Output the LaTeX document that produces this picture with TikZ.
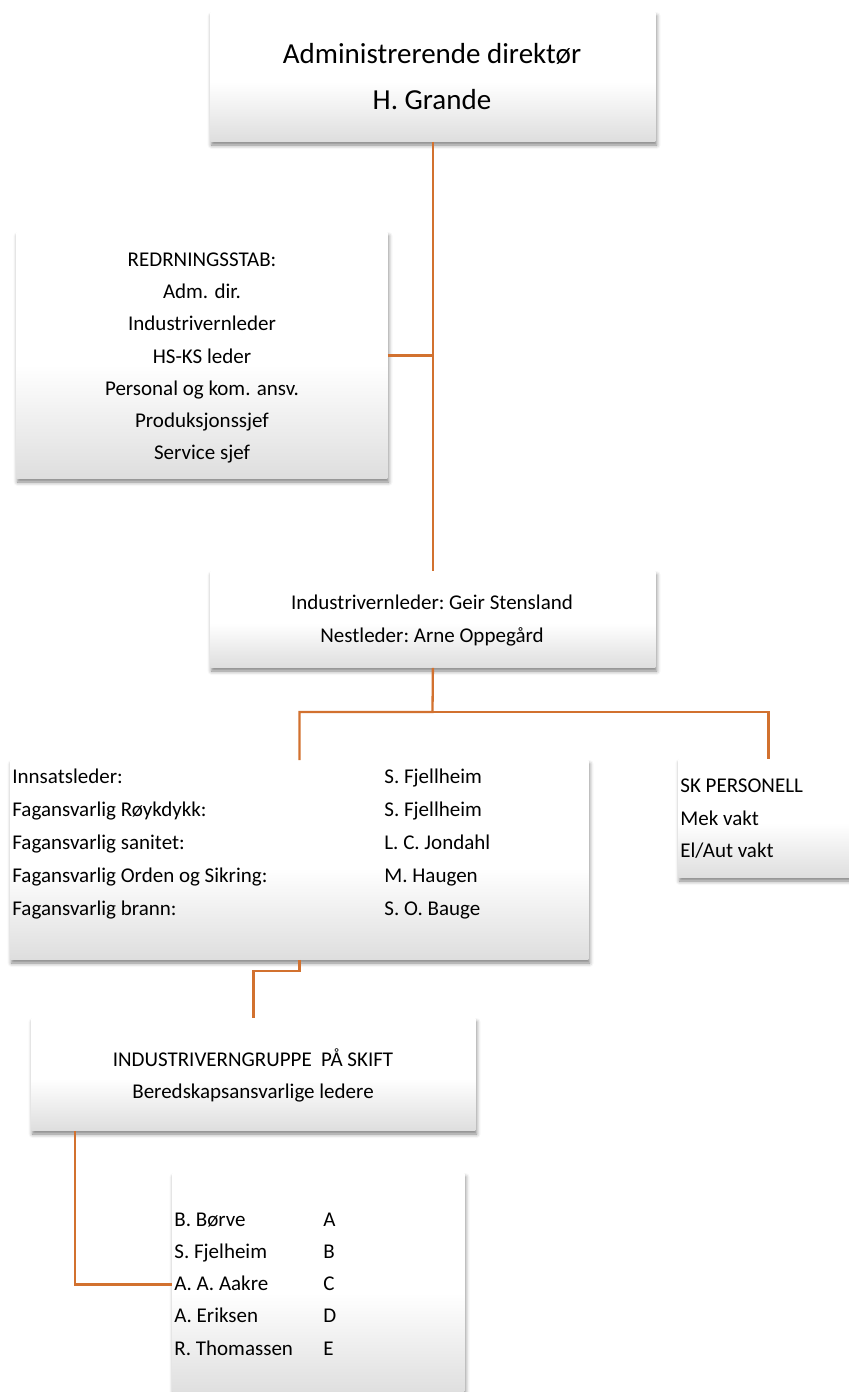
\documentclass[tikz,border=0pt]{standalone}
\usepackage{fontspec}
\setmainfont{Carlito}
\usetikzlibrary{shadows.blur}
\definecolor{conn}{HTML}{D2712F}
\pgfdeclareverticalshading{boxshade}{100bp}{color(0bp)=(black!13); color(25bp)=(black!13); color(48bp)=(white); color(75bp)=(white); color(100bp)=(white)}
\tikzset{
  orgbox/.style={shading=boxshade, draw=none, inner sep=0pt, anchor=north west,
    blur shadow={shadow xshift=0.6pt, shadow yshift=-1.8pt, shadow blur radius=2pt, shadow opacity=50}},
  small/.style={inner sep=0pt, anchor=base, font=\fontsize{10.5pt}{16pt}\selectfont},
  smallw/.style={small, anchor=base west},
  big/.style={inner sep=0pt, anchor=base, font=\fontsize{14.5pt}{23pt}\selectfont},
  link/.style={draw=conn, line width=1.15pt}
}
\begin{document}
\begin{tikzpicture}[x=0.5pt, y=-0.5pt]
\useasboundingbox (0,0) rectangle (848,1392);
% boxes
\node[orgbox, minimum width=222.5pt, minimum height=64.5pt] (adm) at (210,12) {};
\node[orgbox, minimum width=185.5pt, minimum height=123pt] (stab) at (16,232) {};
\node[orgbox, minimum width=222.5pt, minimum height=48pt] (ivl) at (210,571) {};
\node[orgbox, minimum width=289pt, minimum height=99.5pt] (fag) at (10,760) {};
\node[orgbox, minimum width=90pt, minimum height=59pt] (sk) at (678,759) {};
\node[orgbox, minimum width=222pt, minimum height=56pt] (grp) at (31,1018) {};
\node[orgbox, minimum width=146pt, minimum height=111pt] (skift) at (172,1173) {};
% connectors
\coordinate (bus) at (432.5,712);
\coordinate (step2) at (0,971);
\coordinate (gx) at (75,0);
\draw[link] (adm.south) -- (ivl.north);
\draw[link] (stab.east) -- (stab.east -| adm.south);
\draw[link] (ivl.south) -- (bus) -| (fag.north);
\draw[link] (bus) -| (sk.north);
\draw[link] (fag.south) -- (fag.south |- step2) -| (grp.north);
\draw[link] (gx |- grp.south) |- (skift.west);
% texts
\node[big] (adm-1) at (432,63) {Administrerende direktør};
\node[big] (adm-2) at (432,109) {H. Grande};
\node[small] (stab-1) at (202,266) {REDRNINGSSTAB:};
\node[small] (stab-2) at (202,298) {Adm. dir.};
\node[small] (stab-3) at (202,330) {Industrivernleder};
\node[small] (stab-4) at (202,363) {HS-KS leder};
\node[small] (stab-5) at (202,395) {Personal og kom. ansv.};
\node[small] (stab-6) at (202,427) {Produksjonssjef};
\node[small] (stab-7) at (202,459) {Service sjef};
\node[small] (ivl-1) at (432,609) {Industrivernleder:\ Geir Stensland};
\node[small] (ivl-2) at (432,642) {Nestleder:\ Arne Oppegård};
\node[smallw] (fag-1a) at (12,783) {Innsatsleder:};
\node[smallw] (fag-2a) at (12,816) {Fagansvarlig Røykdykk:};
\node[smallw] (fag-3a) at (12,849) {Fagansvarlig sanitet:};
\node[smallw] (fag-4a) at (12,882) {Fagansvarlig Orden og Sikring:};
\node[smallw] (fag-5a) at (12,915) {Fagansvarlig brann:};
\node[smallw] (fag-1b) at (384,783) {S. Fjellheim};
\node[smallw] (fag-2b) at (384,816) {S. Fjellheim};
\node[smallw] (fag-3b) at (384,849) {L. C. Jondahl};
\node[smallw] (fag-4b) at (384,882) {M. Haugen};
\node[smallw] (fag-5b) at (384,915) {S. O. Bauge};
\node[smallw] (sk-1) at (680,792) {SK PERSONELL};
\node[smallw] (sk-2) at (680,825) {Mek vakt};
\node[smallw] (sk-3) at (680,857) {El/Aut vakt};
\node[small] (grp-1) at (253,1066) {INDUSTRIVERNGRUPPE\ \ PÅ SKIFT};
\node[small] (grp-2) at (253,1098) {Beredskapsansvarlige ledere};
\node[smallw] (sf-1a) at (174,1226) {B. Børve};
\node[smallw] (sf-2a) at (174,1258) {S. Fjelheim};
\node[smallw] (sf-3a) at (174,1290) {A. A. Aakre};
\node[smallw] (sf-4a) at (174,1322) {A. Eriksen};
\node[smallw] (sf-5a) at (174,1355) {R. Thomassen};
\node[smallw] (sf-1b) at (323,1226) {A};
\node[smallw] (sf-2b) at (323,1258) {B};
\node[smallw] (sf-3b) at (323,1290) {C};
\node[smallw] (sf-4b) at (323,1322) {D};
\node[smallw] (sf-5b) at (323,1355) {E};
\end{tikzpicture}
\end{document}
